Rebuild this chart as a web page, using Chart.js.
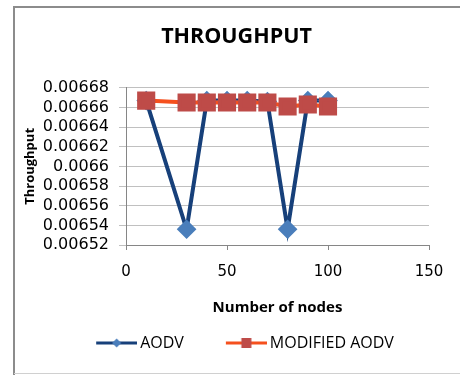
<!DOCTYPE html>
<html>
<head>
<meta charset="utf-8">
<script src="https://cdn.jsdelivr.net/npm/chart.js@4/dist/chart.umd.min.js"></script>
<style>
  html, body { margin: 0; padding: 0; background: #fff; }
  #wrap { width: 460px; height: 375px; position: relative; }
</style>
</head>
<body>
<div id="wrap"><canvas id="graph" width="460" height="375"></canvas></div>
<script>
// donnees
var nodes = [10, 30, 40, 50, 60, 70, 80, 90, 100];
var aodv = [0.006667, 0.006536, 0.006667, 0.006667, 0.006667, 0.006666, 0.006536, 0.006667, 0.006667];
var modified_aodv = [0.006667, 0.006665, 0.006665, 0.006665, 0.006665, 0.006665, 0.006661, 0.006663, 0.006661];
var series_names = ['AODV', 'MODIFIED AODV'];
var y_min = 0.00652, y_max = 0.00668, y_step = 0.00002;
var x_min = 0, x_max = 150, x_step = 50;

const FONT = "'Open Sans', 'DejaVu Sans', sans-serif";
const TICK_FONT = "'DejaVu Sans', sans-serif";

function to_points(xs, ys) {
    let pts = [];
    for (let i = 0; i < xs.length; i++) pts.push({x: xs[i], y: ys[i]});
    return pts;
}

// petite image ligne + marqueur pour la legende (comme Excel)
// marge transparente a gauche = espace entre les entrees
var ICON_MARGIN = 22;
function legend_icon(line_color, marker_color, shape) {
    let c = document.createElement('canvas');
    c.width = ICON_MARGIN + 41; c.height = 14;
    let ctx = c.getContext('2d');
    let x0 = ICON_MARGIN, mid = ICON_MARGIN + 20.5;
    ctx.strokeStyle = line_color;
    ctx.lineWidth = 3;
    ctx.beginPath(); ctx.moveTo(x0, 7); ctx.lineTo(x0 + 41, 7); ctx.stroke();
    ctx.fillStyle = marker_color;
    if (shape == 'diamond') {
        ctx.beginPath();
        ctx.moveTo(mid, 2.5); ctx.lineTo(mid + 4.5, 7); ctx.lineTo(mid, 11.5); ctx.lineTo(mid - 4.5, 7);
        ctx.closePath(); ctx.fill();
    } else {
        ctx.fillRect(mid - 5, 2, 10, 10);
    }
    return c;
}

var icons = [
    legend_icon('#17407A', '#4A7EBB', 'diamond'),
    legend_icon('#F5501E', '#BE4B48', 'square')
];

var frame_plugin = {
    id: 'frame',
    beforeDraw(chart) {
        let ctx = chart.ctx;
        ctx.save();
        ctx.strokeStyle = '#8C8C8C';
        ctx.lineWidth = 2;
        ctx.beginPath();
        ctx.moveTo(14, 375); ctx.lineTo(14, 7); ctx.lineTo(460, 7);
        ctx.stroke();
        ctx.strokeStyle = '#D0D0D0';
        ctx.lineWidth = 1;
        ctx.beginPath(); ctx.moveTo(14, 373.5); ctx.lineTo(460, 373.5); ctx.stroke();
        ctx.restore();
    }
};

var chart = new Chart('graph', {
    type: 'line',
    data: {
        datasets: [{
            label: series_names[0],
            data: to_points(nodes, aodv),
            borderColor: '#17407A',
            backgroundColor: '#4A7EBB',
            pointBackgroundColor: '#4A7EBB',
            pointBorderColor: '#4A7EBB',
            pointStyle: 'rectRot',
            pointRadius: 7,
            borderWidth: 4,
            order: 2
        }, {
            label: series_names[1],
            data: to_points(nodes, modified_aodv),
            borderColor: '#F5501E',
            backgroundColor: '#BE4B48',
            pointBackgroundColor: '#BE4B48',
            pointBorderColor: '#BE4B48',
            pointStyle: 'rect',
            pointRadius: 10,
            borderWidth: 4,
            order: 1
        }]
    },
    options: {
        responsive: false,
        animation: false,
        layout: { padding: { left: 44, right: 31, top: 24, bottom: 14 } },
        plugins: {
            title: {
                display: true,
                text: 'THROUGHPUT',
                color: '#000',
                font: { family: FONT, size: 21.5, weight: 'bold' },
                padding: { top: 0, bottom: 38 }
            },
            legend: {
                position: 'bottom',
                labels: {
                    color: '#000',
                    font: { family: FONT, size: 16 },
                    usePointStyle: true,
                    pointStyleWidth: ICON_MARGIN + 41 - 10,
                    padding: 25,
                    generateLabels(chart) {
                        return chart.data.datasets.map((ds, i) => ({
                            text: ds.label,
                            pointStyle: icons[i],
                            datasetIndex: i,
                            fontColor: '#000',
                            lineWidth: 0,
                            strokeStyle: 'rgba(0,0,0,0)',
                            fillStyle: 'rgba(0,0,0,0)'
                        }));
                    }
                }
            },
            tooltip: { enabled: false }
        },
        scales: {
            x: {
                type: 'linear',
                min: x_min, max: x_max,
                ticks: { stepSize: x_step, color: '#000', font: { family: TICK_FONT, size: 15 }, padding: 13 },
                grid: { display: true, drawOnChartArea: false, tickLength: 5, color: '#868686' },
                border: { color: '#868686' },
                title: {
                    display: true, text: 'Number of nodes', color: '#000',
                    font: { family: FONT, size: 15, weight: 'bold' },
                    padding: { top: 0, bottom: -7 }
                },
                afterFit(scale) { scale.height = 65; }
            },
            y: {
                min: y_min, max: y_max,
                ticks: {
                    stepSize: y_step, autoSkip: false, color: '#000',
                    font: { family: TICK_FONT, size: 16 }, padding: 10,
                    callback: (v) => parseFloat(Number(v).toFixed(5)).toString()
                },
                grid: { color: '#C0C0C0', tickLength: 7 },
                border: { color: '#868686' },
                title: {
                    display: true, text: 'Throughput', color: '#000',
                    font: { family: FONT, size: 13, weight: 'bold' },
                    padding: { top: -22, bottom: 0 }
                },
                afterFit(scale) { scale.width = 82; }
            }
        }
    },
    plugins: [frame_plugin]
});
</script>
</body>
</html>
